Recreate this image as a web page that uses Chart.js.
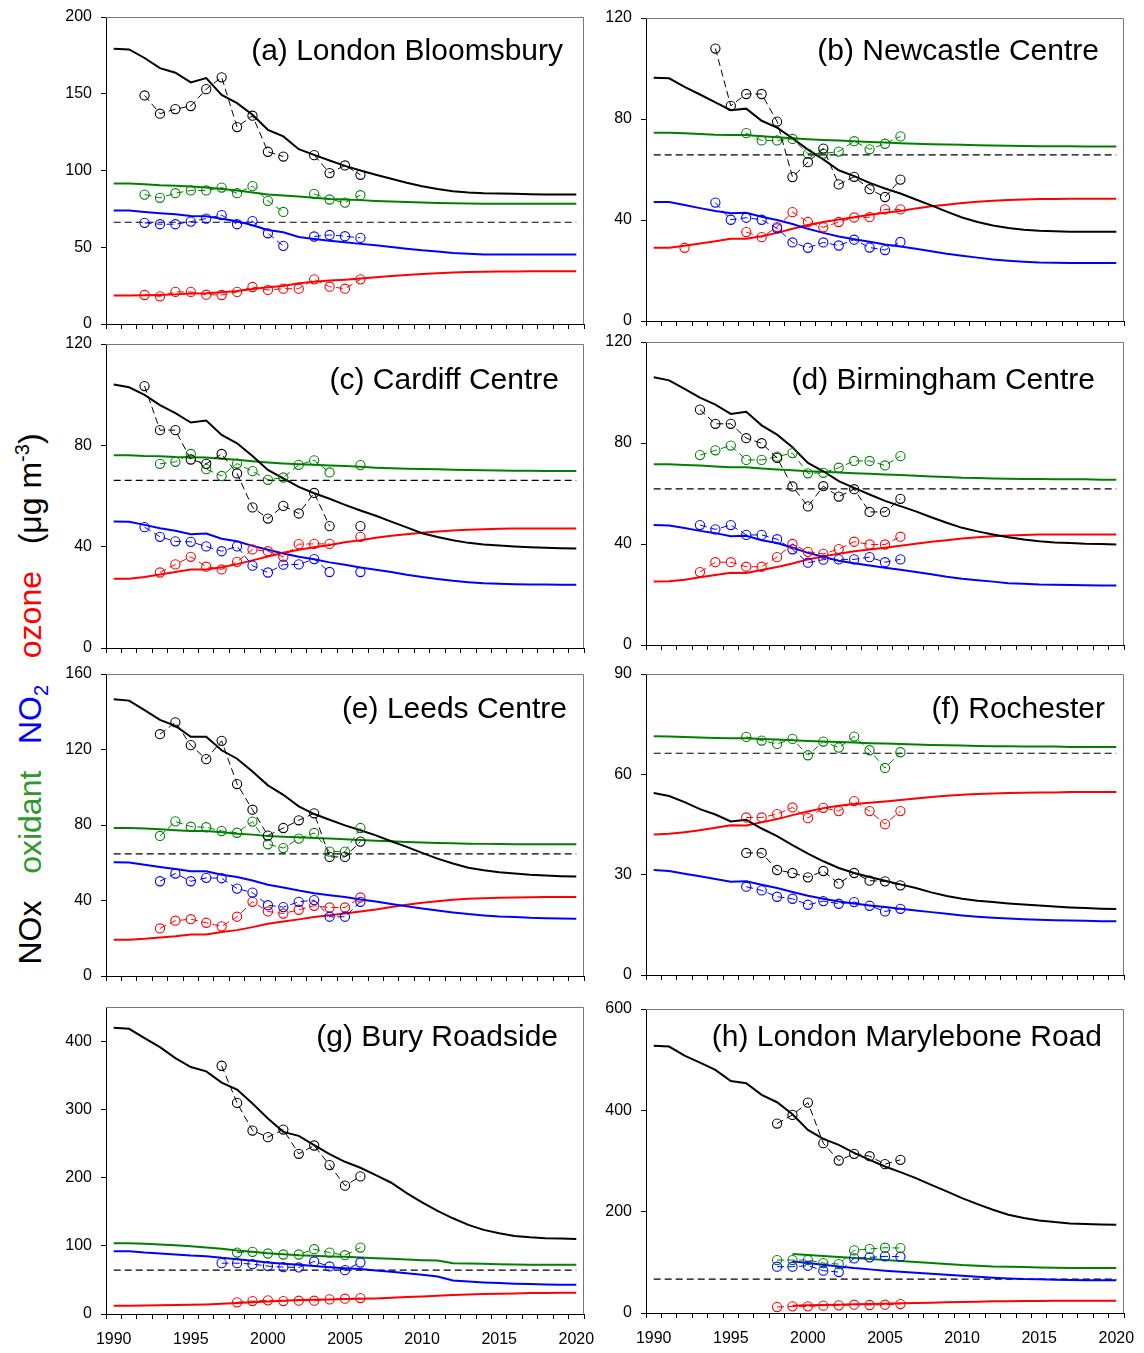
<!DOCTYPE html>
<html>
<head>
<meta charset="utf-8">
<script src="https://cdn.jsdelivr.net/npm/chart.js@4.4.1/dist/chart.umd.min.js"></script>
<style>
  html, body { margin: 0; padding: 0; background: #fff; }
  #page { position: relative; width: 1144px; height: 1353px; overflow: hidden; background: #fff; }
  #page canvas { position: absolute; }
  #ylab {
    position: absolute; left: 30px; top: 699px;
    transform: translate(-50%, -50%) rotate(-90deg);
    white-space: nowrap;
    font-family: "Liberation Sans", Arial, sans-serif;
    font-size: 32px; line-height: 1; color: #000;
  }
  #ylab sub, #ylab sup { font-size: 20px; line-height: 0; }
  #ylab .g { color: #2e9a2e; }
  #ylab .b { color: #0000ff; }
  #ylab .r { color: #ff0000; }
</style>
</head>
<body>
<div id="page">
  <div id="ylab">NOx&nbsp;&nbsp;&nbsp;<span class="g">oxidant</span>&nbsp;&nbsp;&nbsp;<span class="b">NO<sub>2</sub></span>&nbsp;&nbsp;&nbsp;<span class="r">ozone</span>&nbsp;&nbsp;&nbsp;(μg m<sup>-3</sup>)</div>
</div>
<script>
// ---- Model years (annual, 1990-2020) ----
const YEARS = [1990,1991,1992,1993,1994,1995,1996,1997,1998,1999,2000,2001,2002,2003,2004,2005,
               2006,2007,2008,2009,2010,2011,2012,2013,2014,2015,2016,2017,2018,2019,2020];
const X_LABEL_YEARS = [1990, 1995, 2000, 2005, 2010, 2015, 2020];

// ---- (a) London Bloomsbury ----
const A_NOX_MOD = [179.3,178.9,173.3,166.7,163.7,157.4,160.2,149.3,143.9,136.3,126.5,122.2,113.9,110.2,106.5,103,100,97.2,94.6,92,89.8,88,86.5,85.7,85.2,85,84.8,84.5,84.3,84.3,84.3];
const A_OX_MOD  = [91.5,91.5,91.1,90.4,90,89.6,88.9,88,87,85.7,84.3,83.7,83,82.2,81.5,81.1,80.7,80.2,79.8,79.4,79.1,78.9,78.7,78.5,78.3,78.3,78.3,78.3,78.3,78.3,78.3];
const A_NO2_MOD = [73.9,73.9,73,72.2,71.5,70.4,70.2,68.5,67,64.3,61.3,59.8,56.7,55.4,54.3,53.3,52.2,51.3,50.2,49.1,48,47.2,46.3,45.7,45.2,45.2,45.2,45.2,45.2,45.2,45.2];
const A_O3_MOD  = [18.5,18.5,18.7,18.9,19.3,19.8,20,20.7,21.5,22.8,23.9,24.8,26.5,27.6,28.3,28.9,29.6,30.4,31.3,32,32.6,33,33.5,33.9,34.1,34.2,34.2,34.3,34.3,34.3,34.3];
const A_OBS_YEARS = [1992,1993,1994,1995,1996,1997,1998,1999,2000,2001,2002,2003,2004,2005,2006];
const A_NOX_OBS = [148.9,137,140,142,153,160.7,128.3,135.7,112.2,109.1,null,110,98.3,103.3,97.2];
const A_OX_OBS  = [84.3,82.2,85.2,87,87,88.9,85.2,89.8,80.2,73,null,84.8,81.1,79.1,83.9];
const A_NO2_OBS = [65.9,65,65,66.7,68.7,70.9,65,67,59.1,50.9,null,57,58,57.2,56.1];
const A_O3_OBS  = [18.9,18,20.9,20.9,19.1,18.9,20.9,24.1,22.2,23,23,29.1,24.3,23,29.1];
const A_LIMIT = 66.3;
const A_Y_TICKS = [0, 50, 100, 150, 200];

// ---- (b) Newcastle Centre ----
const B_NOX_MOD = [96.3,96.1,92.7,89.7,86.6,83.5,84.1,79.3,76.6,72.4,67.9,64,59.7,57.4,54.7,52.5,50.5,48.1,45.8,43.3,41,39.2,37.8,36.8,36.1,35.7,35.5,35.3,35.3,35.3,35.3];
const B_OX_MOD  = [74.6,74.6,74.4,74.1,73.8,73.7,73.7,73.2,72.8,72.4,72,71.7,71.5,71.2,70.9,70.7,70.4,70.2,70,69.9,69.8,69.6,69.5,69.4,69.3,69.2,69.2,69.2,69.1,69.1,69.1];
const B_NO2_MOD = [47.1,47.1,45.9,44.7,43.6,42.7,42.9,41.3,40,38.4,36.5,34.9,33.5,32.4,31.4,30.3,29.5,28.6,27.6,26.6,25.8,25.1,24.4,23.9,23.5,23.2,23.1,23,23,23,23];
const B_O3_MOD  = [29,29,29.8,30.7,31.6,32.6,32.6,33.6,34.9,36.5,38,39.2,40.2,41.1,42.1,42.9,43.6,44.6,45.4,46,46.7,47.2,47.6,47.9,48.1,48.3,48.3,48.4,48.4,48.4,48.4];
const B_OBS_YEARS = [1992,1993,1994,1995,1996,1997,1998,1999,2000,2001,2002,2003,2004,2005,2006];
const B_NOX_OBS = [null,null,107.9,85.2,89.9,89.9,79,57,62.9,68.3,54.1,57.1,52.2,49.1,56];
const B_OX_OBS  = [null,null,null,null,74.4,71.5,71.5,72.1,66.3,66.3,67.1,71.2,68,70.2,73.1];
const B_NO2_OBS = [null,null,46.9,40.1,40.9,40.1,36.7,31.1,29,31.1,29.9,32.2,29.1,28.1,31.3];
const B_O3_OBS  = [29,null,null,null,35.2,33.2,37.2,43.1,39.2,37.1,39.2,41,41.1,44.2,44.2];
const B_LIMIT = 65.8;
const B_Y_TICKS = [0, 40, 80, 120];

// ---- (c) Cardiff Centre ----
const C_NOX_MOD = [104,102.9,99.9,95.9,92.7,89,89.8,84.1,80.8,75.8,70.3,67,63.6,61.1,58.9,56.5,54.3,52.2,49.9,47.6,45.3,43.8,42.5,41.5,40.9,40.5,40.1,39.8,39.6,39.4,39.3];
const C_OX_MOD  = [76.1,76.1,75.8,75.7,75.4,75.3,75.2,74.7,74.3,73.7,73.2,72.8,72.5,72.3,72,71.8,71.5,71.2,71,70.8,70.7,70.6,70.4,70.3,70.2,70.1,70,70,69.9,69.9,69.9];
const C_NO2_MOD = [49.9,49.8,48.6,47.3,46.3,44.9,45.2,43.1,42.1,40.3,38.8,37.3,36,35,33.8,32.9,31.8,30.9,30,28.9,28,27.2,26.5,26,25.6,25.4,25.2,25.1,25.1,25,25];
const C_O3_MOD  = [27.3,27.3,28,29,30,31,31,31.9,33.1,34.6,36.1,37.6,38.8,39.8,40.7,41.7,42.5,43.5,44.3,44.9,45.5,46,46.4,46.7,46.9,47.1,47.2,47.2,47.2,47.2,47.2];
const C_OBS_YEARS = [1992,1993,1994,1995,1996,1997,1998,1999,2000,2001,2002,2003,2004,2005,2006];
const C_NOX_OBS = [103.4,86,86,74.4,72.7,76.6,68.9,55.5,51.1,56.1,53.1,61.2,48.1,null,48.1];
const C_OX_OBS  = [null,72.7,73.5,76.6,70.6,67.9,72.8,69.8,66.4,67.3,72.3,74.1,69.3,null,72.2];
const C_NO2_OBS = [47.7,43.9,42.1,41.9,40.1,38.2,40.1,32.5,29.8,32.9,33,35.1,30,null,30];
const C_O3_OBS  = [null,29.8,33,36,32.1,31,34,38.9,38.2,36,41,41.1,41.1,null,43.9];
const C_LIMIT = 66.2;
const C_Y_TICKS = [0, 40, 80, 120];

// ---- (d) Birmingham Centre ----
const D_NOX_MOD = [106,104.8,101.4,98,95.2,91.5,92.4,87,83.3,78.3,72.1,68.8,64.9,62.2,59.6,57.1,55,52.9,50.6,48.4,46.4,45,43.8,42.7,41.8,41.1,40.6,40.4,40.1,40,39.8];
const D_OX_MOD  = [71.6,71.6,71.3,71.1,70.7,70.4,70.4,69.9,69.5,69.2,68.8,68.6,68.3,68,67.8,67.5,67.3,67,66.7,66.5,66.2,66.1,65.9,65.8,65.7,65.7,65.6,65.6,65.6,65.4,65.4];
const D_NO2_MOD = [47.5,47.3,46.3,45.2,44.3,43.1,43.3,41.5,40.4,38.5,36.5,34.9,33.4,32.4,31.5,30.6,29.8,28.9,28,27,26.2,25.6,25.1,24.5,24.3,24,23.9,23.8,23.7,23.6,23.6];
const D_O3_MOD  = [25.1,25.2,25.8,26.8,27.7,28.6,28.5,29.7,30.9,32.3,33.9,35.1,36.1,37.1,37.8,38.5,39.3,40.1,40.9,41.5,42.2,42.7,43.1,43.4,43.6,43.8,43.8,43.8,43.8,43.8,43.8];
const D_OBS_YEARS = [1993,1994,1995,1996,1997,1998,1999,2000,2001,2002,2003,2004,2005,2006];
const D_NOX_OBS = [93.2,87.6,87.6,81.9,79.9,74.1,62.8,54.9,62.9,58.8,61.7,52.7,52.7,57.9];
const D_OX_OBS  = [75.2,77.1,79,73.3,73.3,74.6,76,68,68.2,70.2,72.9,72.9,71.1,74.8];
const D_NO2_OBS = [47.5,45.8,47.5,43.6,43.6,41.9,37.9,32.6,33.8,33.9,33.9,34.8,32.8,33.9];
const D_O3_OBS  = [28.9,32.8,32.8,31,31,34.8,40,36.9,36.1,38,40.9,39.8,39.8,42.9];
const D_LIMIT = 61.8;
const D_Y_TICKS = [0, 40, 80, 120];

// ---- (e) Leeds Centre ----
const E_NOX_MOD = [146.6,145.9,140.9,135.7,132.5,126.7,126.7,119.6,115.1,108.4,101,96,89.9,85.8,82.8,79.8,77.2,74.5,71.4,68.4,65.2,62.2,59.6,57.4,56,55,54.3,53.6,53.2,52.9,52.7];
const E_OX_MOD  = [78.4,78.4,78.1,77.7,77.2,76.8,76.8,76.1,75.4,74.9,74.2,73.8,73.5,73.1,72.8,72.4,72.1,71.7,71.4,71,70.7,70.5,70.3,70.1,70,69.9,69.8,69.8,69.8,69.8,69.8];
const E_NO2_MOD = [60.3,60.1,58.9,57.8,56.7,55.5,55.5,53.7,52.5,50.6,48.3,46.9,45.3,43.9,42.8,41.8,40.5,39.5,38.2,37,35.8,34.7,33.7,32.8,32.1,31.5,31.2,30.8,30.6,30.4,30.3];
const E_O3_MOD  = [19.2,19.2,19.7,20.4,21.1,22,22,23.3,24.3,25.9,27.7,28.9,30,31.2,32.2,33.1,34.2,35.2,36.5,37.7,38.8,39.6,40.4,40.9,41.2,41.5,41.6,41.7,41.8,41.8,41.8];
const E_OBS_YEARS = [1993,1994,1995,1996,1997,1998,1999,2000,2001,2002,2003,2004,2005,2006];
const E_NOX_OBS = [128.1,134.4,122.3,114.9,124.6,101.7,88.1,74.4,78.4,82.5,86.2,63.1,63.1,71.2];
const E_OX_OBS  = [74.2,81.9,79.1,78.8,76.8,75.9,81.8,69.8,67.8,72.8,75.8,65.9,65.9,78.4];
const E_NO2_OBS = [50.2,54.3,50.2,52,51.8,46.3,44.2,37.5,36.5,39.3,40.2,31.4,31.4,39.3];
const E_O3_OBS  = [25.2,29.3,30.1,28.2,26.3,31.4,39.3,34.2,33.1,35.1,37.2,36.3,36.3,41.6];
const E_LIMIT = 64.7;
const E_Y_TICKS = [0, 40, 80, 120, 160];

// ---- (f) Rochester ----
const F_NOX_MOD = [54.4,53.5,51.7,49.6,48,45.9,46.4,43.8,41.5,38.8,36.3,34,32,30.5,29.3,28.2,27.1,26,24.7,23.6,22.8,22.2,21.8,21.4,21.1,20.8,20.5,20.2,20,19.8,19.7];
const F_OX_MOD  = [71.4,71.3,71.2,71,70.9,70.8,70.8,70.6,70.4,70.2,70,69.8,69.7,69.5,69.3,69.2,69.1,68.9,68.8,68.7,68.6,68.5,68.4,68.4,68.3,68.3,68.3,68.2,68.2,68.2,68.2];
const F_NO2_MOD = [31.4,31.1,30.3,29.5,28.7,27.9,28,27,26,24.8,23.7,22.8,22,21.4,20.8,20.3,19.8,19.3,18.8,18.3,17.8,17.4,17.1,16.9,16.7,16.5,16.4,16.3,16.2,16.1,16.1];
const F_O3_MOD  = [42,42.2,42.7,43.3,44,44.8,44.7,45.7,46.6,47.8,48.9,49.9,50.6,51.1,51.5,51.9,52.3,52.8,53.2,53.6,53.9,54.1,54.3,54.4,54.5,54.6,54.6,54.7,54.7,54.7,54.7];
const F_OBS_YEARS = [1996,1997,1998,1999,2000,2001,2002,2003,2004,2005,2006];
const F_NOX_OBS = [36.5,36.5,31.4,30.5,29.2,31.1,27.3,30.5,28.2,28,26.8];
const F_OX_OBS  = [71.2,70.1,69.1,70.6,65.7,69.8,68,71.3,67.2,61.9,66.6];
const F_NO2_OBS = [26.4,25.3,23.4,22.8,21,22.1,21.3,21.8,20.7,19,19.8];
const F_O3_OBS  = [47.1,47.1,48.1,50.1,46.9,50,49,52,49,45.1,49];
const F_LIMIT = 66.3;
const F_Y_TICKS = [0, 30, 60, 90];

// ---- (g) Bury Roadside ----
const G_NOX_MOD = [419.5,418,404.4,391.2,375.1,362,355.7,339.1,328.9,308.4,286.5,267,261.1,247.5,234.3,223.1,214.4,203.6,192.4,177.3,163.7,151,140.3,130.6,123.3,118.4,114.5,112.5,111.1,110.6,110.1];
const G_OX_MOD  = [103.8,103.8,102.8,101.8,100.8,99.4,97.4,95.5,93.1,91.1,89.2,87.7,86.2,85.3,84.3,83.8,82.8,81.8,80.9,79.9,78.9,78.4,74.5,74.1,73.6,73.1,72.6,72.1,72.1,72.1,72.1];
const G_NO2_MOD = [92.1,92.1,90.1,88.7,87.2,85.7,84.8,82.3,80.4,78,75.5,73.6,72.1,70.2,68.7,67.2,65.8,63.8,61.9,59.9,57.5,55.1,49.2,47.7,46.3,45.3,44.3,43.8,43.4,42.9,42.9];
const G_O3_MOD  = [12.2,12.2,12.4,12.7,13.2,13.6,14.1,15.1,16.1,17.1,18.5,19.5,20.5,20.9,21.4,21.9,22.4,22.9,23.9,24.8,25.8,26.8,27.8,28.7,29.2,29.7,30.2,30.7,30.9,31.2,31.2];
const G_OBS_YEARS = [1997,1998,1999,2000,2001,2002,2003,2004,2005,2006];
const G_NOX_OBS = [363.9,309.4,268.9,259.2,270.4,234.8,247,218.3,188.1,201.7];
const G_OX_OBS  = [null,90.1,91.1,88.7,87.2,87.2,95,90.1,86.2,97.4];
const G_NO2_OBS = [74.5,74.5,73.1,70.2,68.7,68.2,77,69.7,64.3,75.5];
const G_O3_OBS  = [null,17.1,19,20,19,19.5,19.5,21.4,22.4,23.4];
const G_LIMIT = 64.3;
const G_Y_TICKS = [0, 100, 200, 300, 400];

// ---- (h) London Marylebone Road ----
const H_NOX_MOD = [527.7,525.8,508,494.2,479.8,458,453.5,430.5,416,392.3,361.5,343.7,331.9,316.1,302.3,289.2,278,266.2,253,239.9,226.7,214.9,203.7,193.9,187.3,182.7,179.4,176.8,175.5,174.8,174.2];
const H_OX_MOD  = [null,null,null,null,null,null,null,null,null,116.3,114.4,112.4,110.4,108.4,106.5,104.5,102.5,100.6,98.6,96.6,94.6,93.3,92,91.4,90.7,90,89.4,89,88.7,88.7,88.7];
const H_NO2_MOD = [null,null,null,null,null,null,null,null,null,101.9,98.6,95.3,92,88.7,86.1,83.5,81.5,79.5,77.5,75.6,73.6,71.6,69.7,68.3,67,66.4,65.7,65.1,64.7,64.4,64.4];
const H_O3_MOD  = [null,null,null,null,null,null,null,null,null,14.5,15.1,15.8,16.4,17.1,17.7,18.4,19.1,19.7,20.4,21,21.7,22.3,23,23.3,23.6,23.9,24.1,24.3,24.3,24.3,24.3];
const H_OBS_YEARS = [1998,1999,2000,2001,2002,2003,2004,2005,2006];
const H_NOX_OBS = [373.9,391,415.3,335.2,301,314.1,309.5,293.8,302.3];
const H_OX_OBS  = [104.5,104.5,104.5,98.6,96.6,123.6,126.2,128.8,128.2];
const H_NO2_OBS = [91.4,91.4,93.3,83.5,80.8,107.8,109.8,111.7,111.1];
const H_O3_OBS  = [11.8,13.1,13.1,14.5,15.1,16.4,15.8,16.4,17.7];
const H_LIMIT = 67;
const H_Y_TICKS = [0, 200, 400, 600];

// ---- Series colours ----
const C_NOX = '#000000', C_OX = '#008000', C_NO2 = '#0000ff', C_O3 = '#ff0000';
const FONT = '"Liberation Sans", Arial, Helvetica, sans-serif';

// Panel layout: plot-area box in page pixels, axis range, title placement.
const PANELS = [
  { title: '(a) London Bloomsbury', left: 106, top: 17,   w: 478, h: 307, ymax: 200, yt: A_Y_TICKS, bottom: false, dx: 21, dy: 35,
    mod: [A_NOX_MOD, A_OX_MOD, A_NO2_MOD, A_O3_MOD], oy: A_OBS_YEARS, obs: [A_NOX_OBS, A_OX_OBS, A_NO2_OBS, A_O3_OBS], lim: A_LIMIT },
  { title: '(b) Newcastle Centre',  left: 646, top: 18,   w: 478, h: 303, ymax: 120, yt: B_Y_TICKS, bottom: false, dx: 25, dy: 34,
    mod: [B_NOX_MOD, B_OX_MOD, B_NO2_MOD, B_O3_MOD], oy: B_OBS_YEARS, obs: [B_NOX_OBS, B_OX_OBS, B_NO2_OBS, B_O3_OBS], lim: B_LIMIT },
  { title: '(c) Cardiff Centre',    left: 106, top: 344,  w: 478, h: 304, ymax: 120, yt: C_Y_TICKS, bottom: false, dx: 25, dy: 37,
    mod: [C_NOX_MOD, C_OX_MOD, C_NO2_MOD, C_O3_MOD], oy: C_OBS_YEARS, obs: [C_NOX_OBS, C_OX_OBS, C_NO2_OBS, C_O3_OBS], lim: C_LIMIT },
  { title: '(d) Birmingham Centre', left: 646, top: 342,  w: 478, h: 303, ymax: 120, yt: D_Y_TICKS, bottom: false, dx: 29, dy: 39,
    mod: [D_NOX_MOD, D_OX_MOD, D_NO2_MOD, D_O3_MOD], oy: D_OBS_YEARS, obs: [D_NOX_OBS, D_OX_OBS, D_NO2_OBS, D_O3_OBS], lim: D_LIMIT },
  { title: '(e) Leeds Centre',      left: 106, top: 674,  w: 478, h: 302, ymax: 160, yt: E_Y_TICKS, bottom: false, dx: 17, dy: 36,
    mod: [E_NOX_MOD, E_OX_MOD, E_NO2_MOD, E_O3_MOD], oy: E_OBS_YEARS, obs: [E_NOX_OBS, E_OX_OBS, E_NO2_OBS, E_O3_OBS], lim: E_LIMIT },
  { title: '(f) Rochester',         left: 646, top: 674,  w: 478, h: 301, ymax: 90,  yt: F_Y_TICKS, bottom: false, dx: 19, dy: 36,
    mod: [F_NOX_MOD, F_OX_MOD, F_NO2_MOD, F_O3_MOD], oy: F_OBS_YEARS, obs: [F_NOX_OBS, F_OX_OBS, F_NO2_OBS, F_O3_OBS], lim: F_LIMIT },
  { title: '(g) Bury Roadside',     left: 106, top: 1007, w: 478, h: 307, ymax: 450, yt: G_Y_TICKS, bottom: true,  dx: 26, dy: 31,
    mod: [G_NOX_MOD, G_OX_MOD, G_NO2_MOD, G_O3_MOD], oy: G_OBS_YEARS, obs: [G_NOX_OBS, G_OX_OBS, G_NO2_OBS, G_O3_OBS], lim: G_LIMIT },
  { title: '(h) London Marylebone Road', left: 646, top: 1009, w: 478, h: 304, ymax: 600, yt: H_Y_TICKS, bottom: true, dx: 22, dy: 29,
    mod: [H_NOX_MOD, H_OX_MOD, H_NO2_MOD, H_O3_MOD], oy: H_OBS_YEARS, obs: [H_NOX_OBS, H_OX_OBS, H_NO2_OBS, H_O3_OBS], lim: H_LIMIT }
];

const COLORS = [C_NOX, C_OX, C_NO2, C_O3];
// Canvas margins around each plot box; large enough for the axis labels
// so the plot box keeps the exact size set above.
const PAD_L = 60, PAD_T = 24, PAD_R = 24;

// Minor tick marks sit between the years (1989.5, 1990.5, ... 2020.5)
const X_MARKS = [];
for (let v = 1989.5; v <= 2020.5; v += 1) X_MARKS.push(v);

function zip(xs, ys) { return xs.map((x, i) => ({ x: x, y: ys[i] })); }

// Panel frame: grey top and right edges of the plot box
const frame = {
  id: 'frame',
  afterDraw(chart) {
    const { ctx, chartArea: a } = chart;
    ctx.save();
    ctx.strokeStyle = '#777';
    ctx.lineWidth = 1;
    ctx.beginPath();
    ctx.moveTo(a.left, a.top + 0.5);
    ctx.lineTo(a.right - 0.5, a.top + 0.5);
    ctx.lineTo(a.right - 0.5, a.bottom);
    ctx.stroke();
    ctx.restore();
  }
};

// Site name in the upper right corner of each panel
const siteTitle = {
  id: 'siteTitle',
  afterDraw(chart, args, opts) {
    const { ctx, chartArea: a } = chart;
    ctx.save();
    ctx.font = '30px ' + FONT;
    ctx.fillStyle = '#000';
    ctx.textAlign = 'right';
    ctx.textBaseline = 'middle';
    ctx.fillText(opts.text, a.right - opts.dx, a.top + opts.dy);
    ctx.restore();
  }
};

const page = document.getElementById('page');

PANELS.forEach((p) => {
  const xh = p.bottom ? 45 : 24;
  const cv = document.createElement('canvas');
  cv.width = PAD_L + p.w + PAD_R;
  cv.height = PAD_T + p.h + xh;
  cv.style.left = (p.left - PAD_L) + 'px';
  cv.style.top = (p.top - PAD_T) + 'px';
  page.appendChild(cv);

  const datasets = [];
  // measured annual means: hollow circles joined by a dashed line
  p.obs.forEach((vals, i) => {
    datasets.push({
      data: zip(p.oy, vals),
      borderColor: COLORS[i], backgroundColor: 'rgba(0,0,0,0)',
      borderWidth: 1, borderDash: [7, 4],
      pointRadius: 4.6, pointHoverRadius: 4.6, pointStyle: 'circle',
      pointBorderColor: COLORS[i], pointBackgroundColor: 'rgba(0,0,0,0)', pointBorderWidth: 1.1,
      spanGaps: false, tension: 0
    });
  });
  // modelled trends: solid lines
  p.mod.forEach((vals, i) => {
    datasets.push({
      data: zip(YEARS, vals),
      borderColor: COLORS[i], borderWidth: 2,
      pointRadius: 0, pointHoverRadius: 0, spanGaps: false, tension: 0
    });
  });
  // reference level
  datasets.push({
    data: [{ x: 1990, y: p.lim }, { x: 2020, y: p.lim }],
    borderColor: '#000', borderWidth: 1.2, borderDash: [7, 4], pointRadius: 0
  });

  new Chart(cv, {
    type: 'line',
    data: { datasets },
    plugins: [frame, siteTitle],
    options: {
      responsive: false,
      animation: false,
      events: [],
      layout: { padding: { left: 0, top: PAD_T, right: PAD_R, bottom: 0 } },
      plugins: {
        legend: { display: false },
        tooltip: { enabled: false },
        siteTitle: { text: p.title, dx: p.dx, dy: p.dy }
      },
      scales: {
        x: {
          type: 'linear', min: 1989.5, max: 2020.5,
          afterBuildTicks: (s) => {
            const vals = X_MARKS.concat(X_LABEL_YEARS).sort((a, b) => a - b);
            s.ticks = vals.map(v => ({ value: v }));
          },
          afterFit: (s) => { s.height = xh; },
          grid: {
            drawOnChartArea: false, drawTicks: true, tickLength: 5, tickWidth: 1,
            tickColor: (ctx) => (ctx.tick && Number.isInteger(ctx.tick.value)) ? 'rgba(0,0,0,0)' : '#000'
          },
          border: { display: true, color: '#000', width: 1 },
          ticks: {
            autoSkip: false, maxRotation: 0, minRotation: 0, padding: 11,
            color: '#000', font: { family: FONT, size: 16 },
            callback: (v) => (p.bottom && X_LABEL_YEARS.includes(v)) ? String(v) : ''
          }
        },
        y: {
          type: 'linear', min: 0, max: p.ymax,
          afterBuildTicks: (s) => { s.ticks = p.yt.map(v => ({ value: v })); },
          afterFit: (s) => { s.width = PAD_L; },
          grid: { drawOnChartArea: false, drawTicks: true, tickLength: 5, tickColor: '#000', tickWidth: 1 },
          border: { display: true, color: '#000', width: 1 },
          ticks: {
            padding: 9, color: '#000', font: { family: FONT, size: 16 },
            callback: (v) => String(v)
          }
        }
      }
    }
  });
});
</script>
</body>
</html>
